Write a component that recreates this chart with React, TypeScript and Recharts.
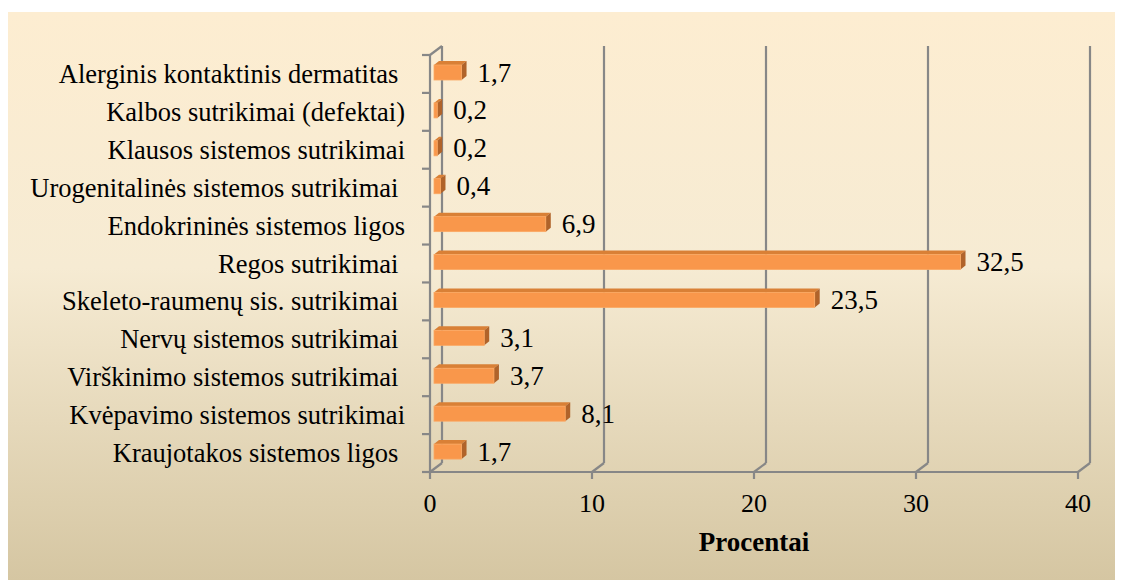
import React from 'react';
import { BarChart, Bar, XAxis, YAxis, CartesianGrid, LabelList } from 'recharts';

const categories = [
  'Alerginis kontaktinis dermatitas ',
  'Kalbos sutrikimai (defektai)',
  'Klausos sistemos sutrikimai',
  'Urogenitalinės sistemos sutrikimai ',
  'Endokrininės sistemos ligos',
  'Regos sutrikimai ',
  'Skeleto-raumenų sis. sutrikimai ',
  'Nervų sistemos sutrikimai ',
  'Virškinimo sistemos sutrikimai ',
  'Kvėpavimo sistemos sutrikimai',
  'Kraujotakos sistemos ligos ',
];
const values = [1.7, 0.2, 0.2, 0.4, 6.9, 32.5, 23.5, 3.1, 3.7, 8.1, 1.7];
const xTicks = [0, 10, 20, 30, 40];

const data = categories.map((name, i) => ({ name, value: values[i] }));

const FONT = 'Liberation Serif';
const GRID = '#878787';
const DX = 12; // depth of the 3d walls
const DY = 9;
const BAND = 417 / categories.length;

// vertical gridlines drawn on the back wall, with the floor diagonal
const gridLine = (props: any) => {
  const { x1, y1, y2, index } = props;
  return (
    <g key={`g-${x1}`}>
      <line x1={x1 + DX} y1={y1 - DY} x2={x1 + DX} y2={y2 - DY} stroke={GRID} strokeWidth={2.2} />
      <line x1={x1} y1={y2} x2={x1 + DX} y2={y2 - DY} stroke={GRID} strokeWidth={2.2} />
      {index === 0 && (
        <line x1={x1} y1={y1} x2={x1 + DX} y2={y1 - DY} stroke={GRID} strokeWidth={2.2} />
      )}
    </g>
  );
};

const Bar3D = (props: any) => {
  const { x, y, width, height } = props;
  const x0 = x + 4;
  const y0 = y - 1;
  const w = width;
  const h = height;
  const d = 5;
  const e = 4;
  return (
    <g>
      <polygon
        points={`${x0},${y0} ${x0 + d},${y0 - e} ${x0 + w + d},${y0 - e} ${x0 + w},${y0}`}
        fill="#d98036"
      />
      <polygon
        points={`${x0 + w},${y0} ${x0 + w + d},${y0 - e} ${x0 + w + d},${y0 + h - e} ${x0 + w},${y0 + h}`}
        fill="#b0632a"
      />
      <rect x={x0} y={y0} width={w} height={h} fill="#f9974b" stroke="#fba862" strokeWidth={0.8} />
    </g>
  );
};

const CatTick = (props: any) => {
  const { x, y, payload, index } = props;
  return (
    <g>
      <line x1={x - 8} y1={y - BAND / 2} x2={x} y2={y - BAND / 2} stroke={GRID} strokeWidth={2.2} />
      {index === categories.length - 1 && (
        <line x1={x - 8} y1={y + BAND / 2} x2={x} y2={y + BAND / 2} stroke={GRID} strokeWidth={2.2} />
      )}
      <text
        x={x - 25}
        y={y}
        textAnchor="end"
        dominantBaseline="central"
        fill="#000"
        style={{ whiteSpace: 'pre', fontFamily: FONT, fontSize: 26.5 }}
      >
        {payload.value}
      </text>
    </g>
  );
};

const ValTick = (props: any) => {
  const { x, y, payload } = props;
  return (
    <text
      x={x}
      y={y + 24}
      textAnchor="middle"
      dominantBaseline="central"
      fill="#000"
      style={{ fontFamily: FONT, fontSize: 26 }}
    >
      {payload.value}
    </text>
  );
};

const ValueLabel = (props: any) => {
  const { x, y, width, height, value } = props;
  return (
    <text
      x={x + width + 4 + 16}
      y={y - 1 + height / 2}
      dominantBaseline="central"
      fill="#000"
      style={{ fontFamily: FONT, fontSize: 27 }}
    >
      {String(value).replace('.', ',')}
    </text>
  );
};

const AxisTitle = (props: any) => {
  const { viewBox } = props;
  return (
    <text
      x={viewBox.x + viewBox.width / 2}
      y={viewBox.y + 70}
      textAnchor="middle"
      dominantBaseline="central"
      fill="#000"
      style={{ fontFamily: FONT, fontSize: 27, fontWeight: 'bold' }}
    >
      Procentai
    </text>
  );
};

export default function App() {
  return (
    <div style={{ paddingTop: 4, fontFamily: FONT }}>
      <div
        style={{
          width: 1115,
          height: 568,
          background: 'linear-gradient(to bottom, #fdedd1 0%, #f6ebd3 45%, #d5c6a2 100%)',
        }}
      >
        <BarChart
          width={1115}
          height={568}
          data={data}
          layout="vertical"
          margin={{ top: 43, right: 45, bottom: 48, left: 10 }}
        >
          <CartesianGrid horizontal={false} vertical={gridLine} />
          <XAxis
            type="number"
            domain={[0, 40]}
            ticks={xTicks}
            height={60}
            axisLine={{ stroke: GRID, strokeWidth: 2.2 }}
            tickLine={{ stroke: GRID, strokeWidth: 2.2 }}
            tickSize={7}
            tickMargin={0}
            tick={<ValTick />}
            label={<AxisTitle />}
          />
          <YAxis
            type="category"
            dataKey="name"
            width={412}
            interval={0}
            axisLine={{ stroke: GRID, strokeWidth: 2.2 }}
            tickLine={false}
            tickSize={0}
            tickMargin={0}
            tick={<CatTick />}
          />
          <Bar dataKey="value" barSize={15} shape={<Bar3D />} isAnimationActive={false}>
            <LabelList dataKey="value" content={<ValueLabel />} />
          </Bar>
        </BarChart>
      </div>
    </div>
  );
}
